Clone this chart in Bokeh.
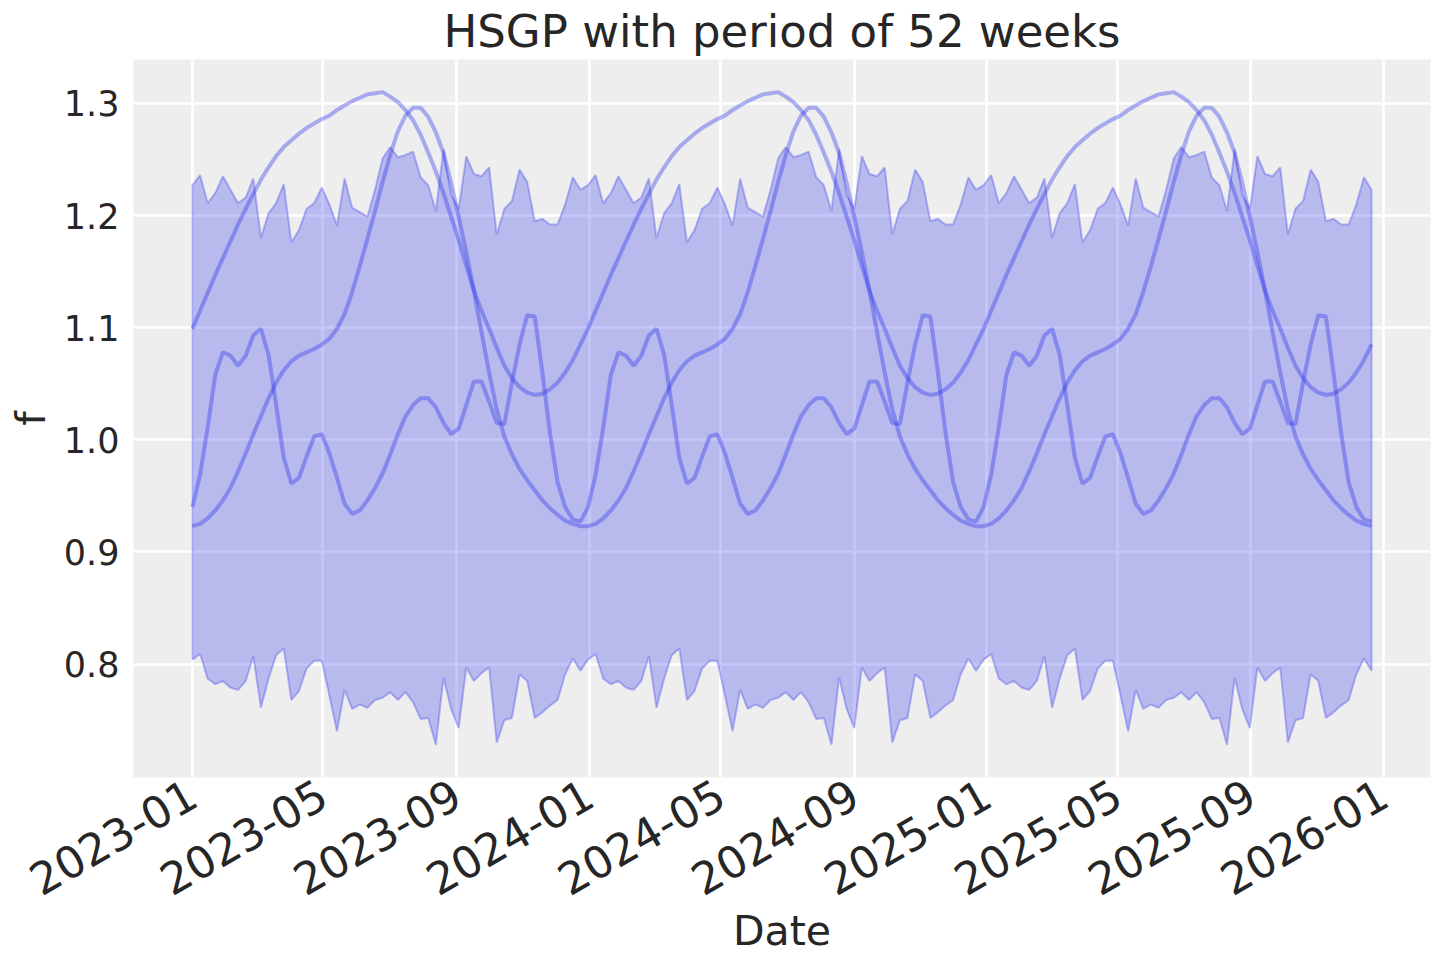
import math
import pandas as pd
from bokeh.plotting import figure
from bokeh.models import Range1d, FixedTicker, DatetimeTickFormatter, NumeralTickFormatter
from bokeh.embed import file_html
from bokeh.resources import INLINE

# ---- data (one 52-week period; the process is periodic) ----
start_date = "2023-01-01"
n_years = 3

hdi_upper_year = [1.227, 1.236, 1.211, 1.220, 1.235, 1.223, 1.211, 1.216, 1.233, 1.180,
                  1.202, 1.211, 1.228, 1.176, 1.187, 1.206, 1.211, 1.225, 1.210, 1.191,
                  1.233, 1.207, 1.203, 1.199, 1.223, 1.251, 1.261, 1.252, 1.254, 1.257,
                  1.234, 1.227, 1.204, 1.259, 1.218, 1.206, 1.253, 1.237, 1.235, 1.243,
                  1.183, 1.206, 1.213, 1.241, 1.230, 1.195, 1.197, 1.192, 1.192, 1.210,
                  1.234, 1.223]
hdi_lower_year = [0.804, 0.809, 0.787, 0.782, 0.785, 0.779, 0.777, 0.785, 0.807, 0.761,
                  0.787, 0.808, 0.814, 0.768, 0.776, 0.796, 0.803, 0.803, 0.772, 0.740,
                  0.777, 0.760, 0.764, 0.761, 0.768, 0.770, 0.775, 0.768, 0.775, 0.766,
                  0.751, 0.752, 0.728, 0.788, 0.760, 0.743, 0.797, 0.785, 0.792, 0.797,
                  0.730, 0.750, 0.752, 0.791, 0.785, 0.752, 0.757, 0.763, 0.768, 0.791,
                  0.805, 0.794]
sample_a_year = [1.099, 1.115, 1.131, 1.147, 1.162, 1.177, 1.192, 1.206, 1.219, 1.232,
                 1.243, 1.253, 1.261, 1.267, 1.273, 1.278, 1.282, 1.286, 1.289, 1.294,
                 1.298, 1.302, 1.305, 1.308, 1.309, 1.310, 1.306, 1.301, 1.294, 1.285,
                 1.272, 1.256, 1.239, 1.220, 1.199, 1.178, 1.155, 1.133, 1.115, 1.099,
                 1.082, 1.066, 1.055, 1.047, 1.042, 1.040, 1.041, 1.045, 1.051, 1.060,
                 1.071, 1.085]
sample_b_year = [0.923, 0.925, 0.930, 0.937, 0.946, 0.957, 0.972, 0.988, 1.005, 1.021,
                 1.037, 1.051, 1.062, 1.070, 1.075, 1.078, 1.081, 1.085, 1.090, 1.099,
                 1.112, 1.132, 1.155, 1.179, 1.204, 1.230, 1.254, 1.275, 1.289, 1.296,
                 1.296, 1.288, 1.274, 1.256, 1.229, 1.199, 1.167, 1.133, 1.096, 1.060,
                 1.027, 1.003, 0.987, 0.974, 0.964, 0.955, 0.946, 0.939, 0.933, 0.928,
                 0.925, 0.923]
sample_c_year = [0.940, 0.969, 1.011, 1.058, 1.078, 1.075, 1.066, 1.075, 1.093, 1.099,
                 1.076, 1.031, 0.984, 0.961, 0.966, 0.985, 1.003, 1.005, 0.988, 0.966,
                 0.943, 0.934, 0.937, 0.946, 0.957, 0.970, 0.987, 1.005, 1.021, 1.031,
                 1.037, 1.037, 1.029, 1.015, 1.005, 1.010, 1.031, 1.052, 1.052, 1.034,
                 1.015, 1.014, 1.051, 1.085, 1.111, 1.110, 1.060, 1.006, 0.962, 0.940,
                 0.929, 0.927]

hdi_upper = hdi_upper_year * n_years
hdi_lower = hdi_lower_year * n_years
samples = [sample_a_year * n_years, sample_b_year * n_years, sample_c_year * n_years]

dates = list(pd.date_range(start_date, periods=len(hdi_upper), freq="7D"))

tick_dates = ["2023-01-01", "2023-05-01", "2023-09-01", "2024-01-01", "2024-05-01",
              "2024-09-01", "2025-01-01", "2025-05-01", "2025-09-01", "2026-01-01"]
y_ticks = [0.8, 0.9, 1.0, 1.1, 1.2, 1.3]

title_text = "HSGP with period of 52 weeks"
x_label = "Date"
y_label = "f"

# ---- ranges (5% margins like matplotlib) ----
span = dates[-1] - dates[0]
pad = span * 0.05
x_range = Range1d(start=dates[0] - pad, end=dates[-1] + pad)
y_all = hdi_upper + hdi_lower + [v for s in samples for v in s]
y_min, y_max = min(y_all), max(y_all)
y_pad = (y_max - y_min) * 0.05
y_range = Range1d(start=y_min - y_pad, end=y_max + y_pad)

FONT = "DejaVu Sans"
TXT = "#262626"
C0 = "#2a2eec"

p = figure(frame_width=1297, frame_height=718, x_axis_type="datetime",
           x_range=x_range, y_range=y_range,
           output_backend="svg", toolbar_location=None,
           background_fill_color="#eeeeee", border_fill_color="white",
           min_border_left=133, min_border_right=2, min_border_top=49,
           min_border_bottom=177, title=title_text)
p.outline_line_color = None

p.title.text_font = FONT
p.title.text_font_size = "45px"
p.title.text_font_style = "normal"
p.title.text_color = TXT
p.title.align = "center"
p.title.standoff = 4

tick_ms = [pd.Timestamp(d).timestamp() * 1000.0 for d in tick_dates]
p.xaxis.ticker = FixedTicker(ticks=tick_ms)
fmt = "%Y-%m"
p.xaxis.formatter = DatetimeTickFormatter(years=fmt, months=fmt, days=fmt, hours=fmt,
                                          minutes=fmt, seconds=fmt, milliseconds=fmt,
                                          microseconds=fmt, hourmin=fmt, minsec=fmt)
p.xaxis.major_label_orientation = math.pi / 6
p.yaxis.ticker = FixedTicker(ticks=y_ticks)
p.yaxis.formatter = NumeralTickFormatter(format="0.0")

for ax, lab in ((p.xaxis, x_label), (p.yaxis, y_label)):
    ax.axis_label = lab
    ax.axis_label_text_font = FONT
    ax.axis_label_text_font_size = "41px"
    ax.axis_label_text_font_style = "normal"
    ax.axis_label_text_color = TXT
    ax.major_label_text_font = FONT
    ax.major_label_text_color = TXT
    ax.major_tick_line_color = None
    ax.minor_tick_line_color = None
    ax.axis_line_color = None

p.xaxis.major_label_text_font_size = "44px"
p.xaxis.major_label_standoff = 7
p.xaxis.axis_label_standoff = -7
p.yaxis.major_label_text_font_size = "35px"
p.yaxis.major_label_standoff = 8
p.yaxis.axis_label_standoff = 6

for g in (p.xgrid, p.ygrid):
    g.grid_line_color = "white"
    g.grid_line_width = 2.7

# HDI band
band_x = dates + dates[::-1]
band_y = hdi_upper + hdi_lower[::-1]
p.patch(x=band_x, y=band_y, fill_color=C0, fill_alpha=0.27,
        line_color=C0, line_alpha=0.3, line_width=2)

# sample paths
for s in samples:
    p.line(x=dates, y=s, line_color=C0, line_alpha=0.36, line_width=4)

open("out.html", "w").write(file_html(p, INLINE))
